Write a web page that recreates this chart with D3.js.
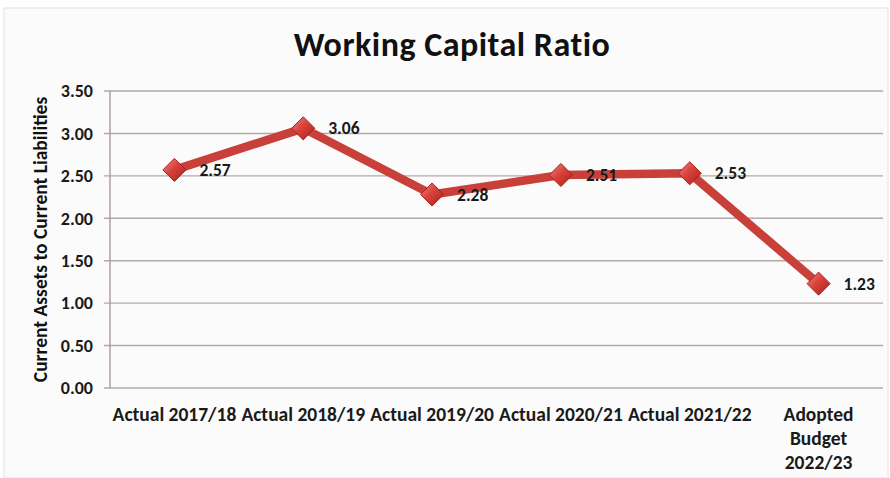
<!DOCTYPE html>
<html>
<head>
<meta charset="utf-8">
<script src="https://cdn.jsdelivr.net/npm/d3@7"></script>
<style>
  html, body { margin: 0; padding: 0; background: #ffffff; }
  svg { display: block; }
</style>
</head>
<body>
<svg id="chart" width="890" height="478"></svg>
<script>
// Working capital ratio by fiscal year
const categories = [
  ["Actual 2017/18"],
  ["Actual 2018/19"],
  ["Actual 2019/20"],
  ["Actual 2020/21"],
  ["Actual 2021/22"],
  ["Adopted", "Budget", "2022/23"]
];
const ratios = [2.57, 3.06, 2.28, 2.51, 2.53, 1.23];
const yTicks = [0, 0.5, 1, 1.5, 2, 2.5, 3, 3.5];

const W = 890, H = 478;
const margin = { left: 110, right: 7, top: 91, bottom: 90 };
const plotW = W - margin.left - margin.right;
const plotH = H - margin.top - margin.bottom;
const fontFam = "Carlito, Lato, 'Open Sans', sans-serif";

const svg = d3.select("#chart");

// chart frame
svg.append("rect").attr("x", 4).attr("y", 8).attr("width", W - 6).attr("height", H - 8)
  .attr("fill", "#fcfbfb").attr("stroke", "#e2e2e2").attr("stroke-width", 1);

const defs = svg.append("defs");
const grad = defs.append("linearGradient").attr("id", "mk")
  .attr("x1", "0").attr("y1", "0").attr("x2", "1").attr("y2", "1");
grad.append("stop").attr("offset", "0%").attr("stop-color", "#f08a84");
grad.append("stop").attr("offset", "45%").attr("stop-color", "#d9423b");
grad.append("stop").attr("offset", "100%").attr("stop-color", "#a8201c");

const x = d3.scaleBand().domain(d3.range(categories.length))
  .range([margin.left, margin.left + plotW]);
const y = d3.scaleLinear().domain([0, 3.5]).range([margin.top + plotH, margin.top]);

// gridlines
svg.append("g").selectAll("line").data(yTicks).join("line")
  .attr("x1", margin.left - 6).attr("x2", margin.left + plotW)
  .attr("y1", d => y(d)).attr("y2", d => y(d))
  .attr("stroke", "#b5a8a8").attr("stroke-width", 1.4);

// y axis line
svg.append("line").attr("x1", margin.left).attr("x2", margin.left)
  .attr("y1", y(3.5)).attr("y2", y(0)).attr("stroke", "#a89a9a").attr("stroke-width", 1.4);

// y tick labels
const yAxis = d3.axisLeft(y).tickValues(yTicks).tickFormat(d3.format(".2f")).tickSize(0).tickPadding(17);
const gy = svg.append("g").attr("transform", `translate(${margin.left},0)`).call(yAxis);
gy.select(".domain").remove();
gy.selectAll("text").attr("font-family", fontFam).attr("font-size", 18)
  .attr("fill", "#1a1a1a").attr("font-weight", "bold");

// x category labels
const gx = svg.append("g");
categories.forEach((lines, i) => {
  const t = gx.append("text")
    .attr("x", x(i) + x.bandwidth() / 2).attr("y", 421)
    .attr("text-anchor", "middle")
    .attr("font-family", fontFam).attr("font-size", 19.5)
    .attr("font-weight", "bold").attr("fill", "#1a1a1a");
  lines.forEach((ln, j) => {
    t.append("tspan").attr("x", x(i) + x.bandwidth() / 2).attr("dy", j === 0 ? 0 : 24).text(ln);
  });
});

// y axis title
svg.append("text")
  .attr("transform", `translate(47, ${y(1.75)}) rotate(-90)`)
  .attr("text-anchor", "middle")
  .attr("font-family", fontFam).attr("font-size", 19.5).attr("font-weight", "bold")
  .attr("fill", "#111").text("Current Assets to Current Liabilities");

// chart title
svg.append("text").attr("x", 452).attr("y", 56).attr("text-anchor", "middle")
  .attr("font-family", fontFam).attr("font-size", 34).attr("font-weight", "bold")
  .attr("letter-spacing", 0.5)
  .attr("fill", "#111").text("Working Capital Ratio");

const cx = i => x(i) + x.bandwidth() / 2;

// series line
const line = d3.line().x((d, i) => cx(i)).y(d => y(d));
svg.append("path").datum(ratios).attr("d", line)
  .attr("fill", "none").attr("stroke", "#c9403a").attr("stroke-width", 8.5)
  .attr("stroke-linejoin", "round");

// diamond markers
const diamond = d3.symbol().type(d3.symbolDiamond2).size(340);
svg.append("g").selectAll("path").data(ratios).join("path")
  .attr("d", diamond)
  .attr("transform", (d, i) => `translate(${cx(i)},${y(d)})`)
  .attr("fill", "url(#mk)").attr("stroke", "#a8241f").attr("stroke-width", 1);

// value labels
svg.append("g").selectAll("text").data(ratios).join("text")
  .attr("x", (d, i) => cx(i) + 25).attr("y", d => y(d) + 6)
  .attr("font-family", fontFam).attr("font-size", 17.5).attr("font-weight", "bold")
  .attr("fill", "#1a1a1a").text(d => d.toFixed(2));
</script>
</body>
</html>
